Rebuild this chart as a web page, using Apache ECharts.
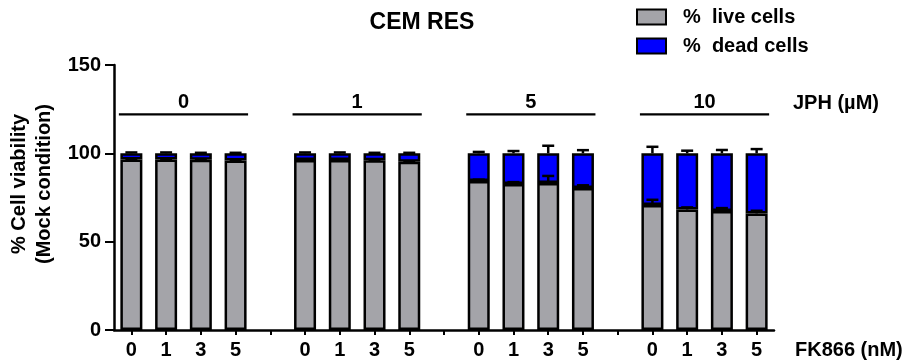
<!DOCTYPE html>
<html>
<head>
<meta charset="utf-8">
<script src="https://cdn.jsdelivr.net/npm/echarts@6/dist/echarts.min.js"></script>
<style>
  html, body { margin: 0; padding: 0; background: #ffffff; }
  #chart { width: 910px; height: 362px; }
</style>
</head>
<body>
<div id="chart"></div>
<script>
// FK866 concentration (nM) per bar; empty entries are spacer slots between JPH groups
const fkLabels = ['0', '1', '3', '5', '', '0', '1', '3', '5', '', '0', '1', '3', '5', '', '0', '1', '3', '5'];
// JPH concentration (µM) for each group of four bars
const jphLevels = ['0', '1', '5', '10'];
// first and last bar slot of each JPH group
const groupStart = [0, 5, 10, 15];
const groupEnd = [3, 8, 13, 18];
// % live cells (mean) and its SD
const liveCells = [96.5, 96.5, 96.4, 95.9, null, 96.2, 96.2, 96.1, 95.2, null, 84.3, 82.7, 83.2, 80.4, null, 70.7, 68.2, 67.3, 66.0];
const liveSd = [0.3, 0.3, 0.3, 0.3, null, 0.3, 0.3, 0.3, 0.3, null, 0.8, 1.0, 4.0, 1.5, null, 3.0, 1.2, 1.7, 1.5];
// % dead cells (mean), stacked on the live fraction, and the SD of the total
const deadCells = [3.5, 3.5, 3.6, 4.1, null, 3.8, 3.8, 3.9, 4.8, null, 15.7, 17.3, 16.8, 19.6, null, 29.3, 31.8, 32.7, 34.0];
const totalSd = [0.5, 0.5, 0.3, 0.3, null, 0.5, 0.5, 0.3, 0.3, null, 0.8, 1.3, 4.3, 1.8, null, 3.7, 1.5, 1.9, 2.4];
// height (in % units) of the JPH group brackets
const bracketLevel = 122;

const FONT = '"Liberation Sans", Arial, sans-serif';
const GREY = '#a4a4a9';
const BLUE = '#0000ff';

const chart = echarts.init(document.getElementById('chart'), null, { renderer: 'canvas' });

// upward error bars: [slot, base value, sd]
function errorData(base, sd) {
  const out = [];
  base.forEach((v, i) => {
    if (v != null && sd[i] != null) out.push([i, v, sd[i]]);
  });
  return out;
}
const liveErr = errorData(liveCells, liveSd);
const totalErr = errorData(liveCells.map((v, i) => v == null ? null : v + deadCells[i]), totalSd);

function renderError(params, api) {
  const x = api.value(0);
  const base = api.value(1);
  const sd = api.value(2);
  const p0 = api.coord([x, base]);
  const p1 = api.coord([x, base + sd]);
  const half = 6;
  const style = { stroke: '#000', lineWidth: 2.5 };
  return {
    type: 'group',
    children: [
      { type: 'line', shape: { x1: p0[0], y1: p0[1], x2: p1[0], y2: p1[1] }, style },
      { type: 'line', shape: { x1: p1[0] - half, y1: p1[1], x2: p1[0] + half, y2: p1[1] }, style }
    ]
  };
}

const bracketData = jphLevels.map((_, i) => [groupStart[i], groupEnd[i], bracketLevel]);

function renderBracket(params, api) {
  const a = api.coord([api.value(0), api.value(2)]);
  const b = api.coord([api.value(1), api.value(2)]);
  const halfBar = 12.5;
  return {
    type: 'group',
    children: [
      { type: 'line', shape: { x1: a[0] - halfBar, y1: a[1], x2: b[0] + halfBar, y2: a[1] },
        style: { stroke: '#000', lineWidth: 2.2 } },
      { type: 'text', x: (a[0] + b[0]) / 2, y: a[1] - 12,
        style: { text: jphLevels[params.dataIndex], font: 'bold 20px ' + FONT, fill: '#000',
                 align: 'center', verticalAlign: 'middle' } }
    ]
  };
}

const option = {
  backgroundColor: '#ffffff',
  animation: false,
  textStyle: { fontFamily: FONT },
  title: {
    text: 'CEM RES',
    left: 422, top: 11, textAlign: 'center', padding: 0,
    textStyle: { fontSize: 23, fontWeight: 'bold', color: '#000', fontFamily: FONT }
  },
  legend: {
    orient: 'vertical',
    left: 636, top: 7, padding: 0,
    icon: 'rect',
    itemWidth: 29, itemHeight: 15, itemGap: 9,
    data: ['% live cells', '% dead cells'],
    formatter: (name) => name.replace('% ', '%  '),
    textStyle: { fontSize: 20, fontWeight: 'bold', color: '#000', fontFamily: FONT, padding: [0, 0, 0, 12] }
  },
  grid: { left: 114, right: 136, top: 65, bottom: 32, containLabel: false },
  xAxis: {
    type: 'category',
    data: fkLabels,
    boundaryGap: true,
    axisLine: { lineStyle: { color: '#000', width: 2.5 } },
    axisTick: { show: true, alignWithLabel: true, interval: 0, length: 5, lineStyle: { color: '#000', width: 2 } },
    axisLabel: { interval: 0, margin: 10, fontSize: 20, fontWeight: 'bold', color: '#000', fontFamily: FONT },
    splitLine: { show: false }
  },
  yAxis: {
    type: 'value',
    min: 0, max: 150, interval: 50,
    axisLine: { show: true, lineStyle: { color: '#000', width: 2.5 } },
    axisTick: { show: true, length: 9, lineStyle: { color: '#000', width: 2 } },
    axisLabel: { margin: 13, fontSize: 20, fontWeight: 'bold', color: '#000', fontFamily: FONT },
    splitLine: { show: false }
  },
  graphic: [
    {
      type: 'text', rotation: Math.PI / 2,
      x: 32, y: 184,
      style: { text: '% Cell viability\n(Mock condition)', font: 'bold 20px ' + FONT, fill: '#000',
               align: 'center', verticalAlign: 'middle', lineHeight: 25 }
    },
    {
      type: 'text', x: 793, y: 103,
      style: { text: 'JPH (\u00b5M)', font: 'bold 20px ' + FONT, fill: '#000', verticalAlign: 'middle' }
    },
    {
      type: 'text', x: 795, y: 350,
      style: { text: 'FK866 (nM)', font: 'bold 20px ' + FONT, fill: '#000', verticalAlign: 'middle' }
    }
  ],
  series: [
    {
      name: '% live cells', type: 'bar', stack: 'cells',
      data: liveCells, barWidth: 22,
      itemStyle: { color: GREY, borderColor: '#000', borderWidth: 2.5 }
    },
    {
      name: '% dead cells', type: 'bar', stack: 'cells',
      data: deadCells, barWidth: 22,
      itemStyle: { color: BLUE, borderColor: '#000', borderWidth: 2.5 }
    },
    {
      type: 'custom', name: 'live SD', renderItem: renderError, data: liveErr,
      encode: { x: 0, y: 1 }, z: 5, silent: true
    },
    {
      type: 'custom', name: 'total SD', renderItem: renderError, data: totalErr,
      encode: { x: 0, y: 1 }, z: 5, silent: true
    },
    {
      type: 'custom', name: 'JPH groups', renderItem: renderBracket, data: bracketData,
      encode: { x: [0, 1], y: 2 }, z: 5, silent: true
    }
  ]
};

chart.setOption(option);
</script>
</body>
</html>
